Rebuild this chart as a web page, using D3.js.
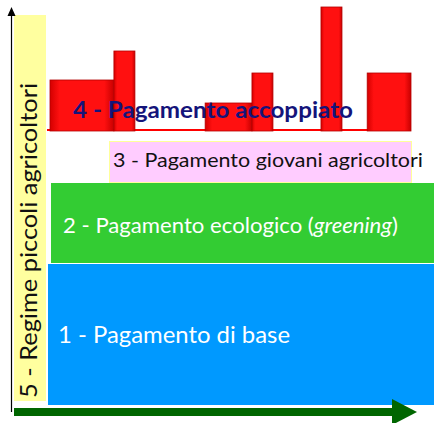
<!DOCTYPE html>
<html><head><meta charset="utf-8">
<script src="https://cdn.jsdelivr.net/npm/d3@7"></script>
<style>html,body{margin:0;padding:0;background:#fff;}svg{display:block;}</style>
</head><body>
<script>
// ---- data ----
const barIds     = ["b1","b2","b3","b4","b5","b6"];
const barStart   = [1, 22.3, 52.7, 68.3, 91.3, 106.7];   // horizontal units
const barEnd     = [22.3, 29.3, 68.3, 75.3, 98.3, 121.3];
const barValues  = [51, 80, 28, 58, 124, 58];            // coupled payment heights
const layerNames = [
  "1 - Pagamento di base",
  "2 - Pagamento ecologico (",
  "3 - Pagamento giovani agricoltori",
  "4 - Pagamento accoppiato",
  "5 - Regime piccoli agricoltori"
];
const greeningWord = "greening";

const W = 434, H = 423;
const svg = d3.select("body").append("svg").attr("width", W).attr("height", H)
  .style("font-family", "Lato, 'Open Sans', sans-serif");

const x = d3.scaleLinear().domain([0, 121.3]).range([47, 411]);
const y = d3.scaleLinear().domain([0, 124]).range([131, 7]);

const defs = svg.append("defs");
const g = defs.append("linearGradient").attr("id","redg").attr("x1","0").attr("x2","1").attr("y1","0").attr("y2","0");
g.append("stop").attr("offset","0%").attr("stop-color","#d40000");
g.append("stop").attr("offset","15%").attr("stop-color","#ff1010");
g.append("stop").attr("offset","85%").attr("stop-color","#ff1010");
g.append("stop").attr("offset","100%").attr("stop-color","#c80000");

// yellow band (5)
svg.append("rect").attr("x",14).attr("y",15).attr("width",32).attr("height",386).attr("fill","#ffff9f");

// blue (1)
svg.append("rect").attr("x",48).attr("y",264).attr("width",W-48).attr("height",141).attr("fill","#0099ff");
// green (2)
svg.append("rect").attr("x",51).attr("y",183).attr("width",W-51).attr("height",80).attr("fill","#33cc33");
// pink (3)
svg.append("rect").attr("x",109.5).attr("y",141.5).attr("width",302).attr("height",41).attr("fill","#ffccff")
  .attr("stroke","#ffff99").attr("stroke-width",1);

// red baseline
svg.append("line").attr("x1",x(0)).attr("x2",x(121.3)).attr("y1",y(0)-1).attr("y2",y(0)-1)
  .attr("stroke","#ff0000").attr("stroke-width",2);

// bars (4)
svg.append("g").selectAll("rect").data(barIds).join("rect")
  .attr("x",(d,i)=>x(barStart[i])).attr("width",(d,i)=>x(barEnd[i])-x(barStart[i]))
  .attr("y",(d,i)=>y(barValues[i])).attr("height",(d,i)=>y(0)-y(barValues[i]))
  .attr("fill","url(#redg)").attr("stroke","#b30000").attr("stroke-width",0.8);

// texts
svg.append("text").attr("x",73).attr("y",118).attr("font-weight","bold").attr("font-size",22)
  .attr("fill","#14147a").attr("textLength",280).attr("lengthAdjust","spacingAndGlyphs").text(layerNames[3]);
svg.append("text").attr("x",113).attr("y",167).attr("font-size",20)
  .attr("fill","#111").attr("textLength",310).attr("lengthAdjust","spacingAndGlyphs").text(layerNames[2]);
const t2 = svg.append("text").attr("x",63).attr("y",233).attr("font-size",22)
  .attr("fill","#fff").attr("textLength",335).attr("lengthAdjust","spacingAndGlyphs");
t2.append("tspan").text(layerNames[1]);
t2.append("tspan").attr("font-style","italic").text(greeningWord);
t2.append("tspan").text(")");
svg.append("text").attr("x",58).attr("y",343).attr("font-size",23)
  .attr("fill","#fff").attr("textLength",232).attr("lengthAdjust","spacingAndGlyphs").text(layerNames[0]);
svg.append("text").attr("transform","translate(37,398) rotate(-90)").attr("font-size",23)
  .attr("fill","#111").attr("textLength",315).attr("lengthAdjust","spacingAndGlyphs").text(layerNames[4]);

// vertical axis (black arrow)
svg.append("line").attr("x1",11.5).attr("x2",11.5).attr("y1",412).attr("y2",15)
  .attr("stroke","#000").attr("stroke-width",1.2);
svg.append("path").attr("d","M11.5,7 L7.5,16 L15.5,16 Z").attr("fill","#000");

// horizontal axis (green arrow)
svg.append("rect").attr("x",14).attr("y",408).attr("width",380).attr("height",8).attr("fill","#006600");
svg.append("path").attr("d","M392,399 L417,412 L392,425 Z").attr("fill","#006600");
</script>
</body></html>
